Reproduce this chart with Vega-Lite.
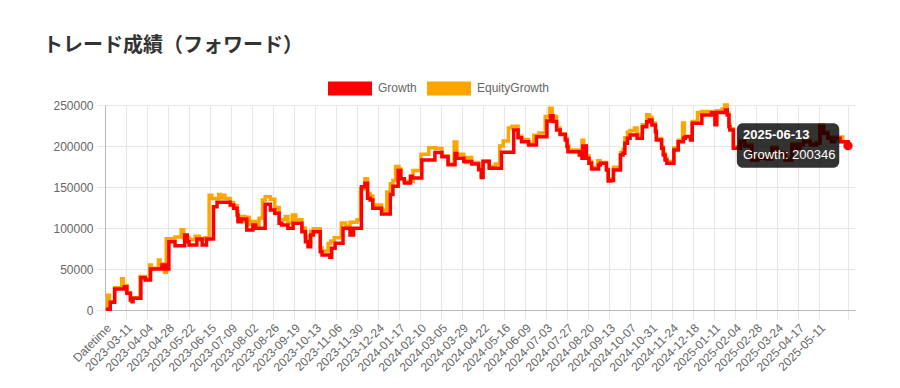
{
"$schema":"https://vega.github.io/schema/vega-lite/v6.json",
"width":750,"height":205,
"autosize":{"type":"none"},
"padding":{"left":105,"top":105,"right":45,"bottom":78},
"background":"white",
"title":{"text":"トレード成績（フォワード）","anchor":"start","frame":"group","dx":-62,"offset":47,"dy":53,"font":"Noto Sans CJK JP","fontSize":20,"fontWeight":"bold","color":"#333333","baseline":"alphabetic"},
"config":{"view":{"stroke":null}},
"datasets":{
"g":[
{"date":"2023-02-16","value":800},{"date":"2023-02-21","value":9400},{"date":"2023-02-26","value":25600},{"date":"2023-03-09","value":28400},{"date":"2023-03-12","value":20400},{"date":"2023-03-16","value":12200},{"date":"2023-03-18","value":10100},{"date":"2023-03-19","value":14300},{"date":"2023-03-28","value":39400},{"date":"2023-04-02","value":36500},{"date":"2023-04-08","value":50000},{"date":"2023-04-21","value":54900},{"date":"2023-04-25","value":50000},{"date":"2023-04-29","value":83300},{"date":"2023-05-06","value":78400},{"date":"2023-05-17","value":91500},{"date":"2023-05-20","value":83300},{"date":"2023-05-22","value":79300},{"date":"2023-05-31","value":86600},{"date":"2023-06-06","value":79300},{"date":"2023-06-11","value":86600},{"date":"2023-06-19","value":126000},{"date":"2023-06-23","value":131300},{"date":"2023-07-08","value":128000},{"date":"2023-07-12","value":124000},{"date":"2023-07-16","value":115800},{"date":"2023-07-17","value":107700},{"date":"2023-07-21","value":111000},{"date":"2023-07-27","value":97600},{"date":"2023-08-03","value":103700},{"date":"2023-08-06","value":99600},{"date":"2023-08-17","value":129000},{"date":"2023-08-23","value":122000},{"date":"2023-08-28","value":118000},{"date":"2023-09-02","value":105700},{"date":"2023-09-05","value":103700},{"date":"2023-09-12","value":99600},{"date":"2023-09-18","value":105700},{"date":"2023-09-28","value":95500},{"date":"2023-10-02","value":83300},{"date":"2023-10-05","value":77200},{"date":"2023-10-08","value":91500},{"date":"2023-10-11","value":95500},{"date":"2023-10-19","value":71100},{"date":"2023-10-21","value":67000},{"date":"2023-10-30","value":64200},{"date":"2023-11-01","value":75200},{"date":"2023-11-05","value":81300},{"date":"2023-11-14","value":99600},{"date":"2023-11-22","value":91500},{"date":"2023-11-26","value":99600},{"date":"2023-12-05","value":150400},{"date":"2023-12-09","value":154500},{"date":"2023-12-12","value":136200},{"date":"2023-12-15","value":134100},{"date":"2023-12-18","value":124000},{"date":"2023-12-28","value":117000},{"date":"2024-01-07","value":141000},{"date":"2024-01-10","value":151000},{"date":"2024-01-16","value":170000},{"date":"2024-01-19","value":160000},{"date":"2024-01-23","value":155000},{"date":"2024-01-30","value":163000},{"date":"2024-02-01","value":161000},{"date":"2024-02-12","value":183000},{"date":"2024-02-27","value":192000},{"date":"2024-03-06","value":187000},{"date":"2024-03-13","value":177000},{"date":"2024-03-21","value":191000},{"date":"2024-03-23","value":185000},{"date":"2024-03-31","value":181000},{"date":"2024-04-09","value":178000},{"date":"2024-04-17","value":171000},{"date":"2024-04-20","value":161500},{"date":"2024-04-22","value":181000},{"date":"2024-04-29","value":173000},{"date":"2024-05-13","value":192500},{"date":"2024-05-27","value":219500},{"date":"2024-06-01","value":210000},{"date":"2024-06-05","value":205300},{"date":"2024-06-13","value":201200},{"date":"2024-06-22","value":211400},{"date":"2024-07-04","value":230600},{"date":"2024-07-08","value":237000},{"date":"2024-07-11","value":230000},{"date":"2024-07-15","value":219500},{"date":"2024-07-19","value":214000},{"date":"2024-07-25","value":207300},{"date":"2024-07-27","value":199200},{"date":"2024-07-28","value":193100},{"date":"2024-08-10","value":189000},{"date":"2024-08-13","value":185000},{"date":"2024-08-14","value":200000},{"date":"2024-08-18","value":185000},{"date":"2024-08-21","value":179000},{"date":"2024-08-24","value":172000},{"date":"2024-09-01","value":176800},{"date":"2024-09-03","value":179000},{"date":"2024-09-10","value":170700},{"date":"2024-09-12","value":157300},{"date":"2024-09-15","value":158000},{"date":"2024-09-18","value":170700},{"date":"2024-09-26","value":189000},{"date":"2024-09-29","value":191100},{"date":"2024-10-01","value":203300},{"date":"2024-10-04","value":209400},{"date":"2024-10-07","value":213400},{"date":"2024-10-15","value":209400},{"date":"2024-10-21","value":223600},{"date":"2024-10-26","value":229600},{"date":"2024-10-29","value":231700},{"date":"2024-11-01","value":225600},{"date":"2024-11-05","value":217500},{"date":"2024-11-06","value":207300},{"date":"2024-11-12","value":197200},{"date":"2024-11-14","value":189000},{"date":"2024-11-16","value":182900},{"date":"2024-11-18","value":179000},{"date":"2024-11-26","value":195100},{"date":"2024-12-01","value":205300},{"date":"2024-12-07","value":209400},{"date":"2024-12-09","value":211400},{"date":"2024-12-15","value":207300},{"date":"2024-12-17","value":227700},{"date":"2024-12-28","value":237800},{"date":"2025-01-08","value":240500},{"date":"2025-01-12","value":226000},{"date":"2025-01-14","value":241000},{"date":"2025-01-24","value":244000},{"date":"2025-01-26","value":237800},{"date":"2025-01-28","value":223600},{"date":"2025-01-29","value":219500},{"date":"2025-02-02","value":197200},{"date":"2025-02-10","value":205300},{"date":"2025-02-15","value":200000},{"date":"2025-02-23","value":182900},{"date":"2025-03-02","value":185000},{"date":"2025-03-12","value":184000},{"date":"2025-03-18","value":197000},{"date":"2025-03-24","value":191000},{"date":"2025-03-29","value":190000},{"date":"2025-04-02","value":182900},{"date":"2025-04-10","value":201200},{"date":"2025-04-15","value":197200},{"date":"2025-04-19","value":201200},{"date":"2025-04-23","value":205300},{"date":"2025-05-01","value":201200},{"date":"2025-05-08","value":203300},{"date":"2025-05-12","value":223600},{"date":"2025-05-16","value":215500},{"date":"2025-05-21","value":209400},{"date":"2025-05-25","value":205300},{"date":"2025-05-29","value":209400},{"date":"2025-06-04","value":205300},{"date":"2025-06-13","value":200346}
],
"e":[
{"date":"2023-02-16","value":800},{"date":"2023-02-18","value":18000},{"date":"2023-02-20","value":10000},{"date":"2023-02-26","value":27000},{"date":"2023-03-06","value":38000},{"date":"2023-03-08","value":30000},{"date":"2023-03-12","value":21000},{"date":"2023-03-16","value":12500},{"date":"2023-03-18","value":11000},{"date":"2023-03-19","value":15000},{"date":"2023-03-27","value":41000},{"date":"2023-04-02","value":38000},{"date":"2023-04-07","value":55000},{"date":"2023-04-09","value":51000},{"date":"2023-04-17","value":61000},{"date":"2023-04-19","value":52000},{"date":"2023-04-22","value":56000},{"date":"2023-04-24","value":46000},{"date":"2023-04-26","value":87000},{"date":"2023-05-06","value":89000},{"date":"2023-05-13","value":98000},{"date":"2023-05-16","value":88000},{"date":"2023-05-22","value":86000},{"date":"2023-05-29","value":90000},{"date":"2023-06-03","value":86000},{"date":"2023-06-09","value":88000},{"date":"2023-06-14","value":140000},{"date":"2023-06-17","value":136000},{"date":"2023-06-25","value":141000},{"date":"2023-06-27","value":137000},{"date":"2023-06-30","value":140000},{"date":"2023-07-02","value":136000},{"date":"2023-07-08","value":131000},{"date":"2023-07-12","value":127000},{"date":"2023-07-16","value":120000},{"date":"2023-07-17","value":110000},{"date":"2023-07-21","value":114000},{"date":"2023-07-25","value":108000},{"date":"2023-07-28","value":113000},{"date":"2023-07-30","value":104000},{"date":"2023-08-03","value":108000},{"date":"2023-08-06","value":104000},{"date":"2023-08-10","value":112000},{"date":"2023-08-14","value":134000},{"date":"2023-08-17","value":138000},{"date":"2023-08-23","value":135000},{"date":"2023-08-28","value":125000},{"date":"2023-09-02","value":110000},{"date":"2023-09-09","value":114000},{"date":"2023-09-12","value":106000},{"date":"2023-09-17","value":116000},{"date":"2023-09-21","value":110000},{"date":"2023-09-28","value":100000},{"date":"2023-10-02","value":90000},{"date":"2023-10-05","value":81000},{"date":"2023-10-08","value":96000},{"date":"2023-10-11","value":99000},{"date":"2023-10-19","value":76000},{"date":"2023-10-21","value":72000},{"date":"2023-10-28","value":81000},{"date":"2023-10-31","value":84000},{"date":"2023-11-04","value":88000},{"date":"2023-11-12","value":106000},{"date":"2023-11-17","value":102000},{"date":"2023-11-22","value":107000},{"date":"2023-11-30","value":110000},{"date":"2023-12-04","value":148000},{"date":"2023-12-09","value":160000},{"date":"2023-12-12","value":142000},{"date":"2023-12-15","value":139000},{"date":"2023-12-18","value":128000},{"date":"2023-12-28","value":122000},{"date":"2024-01-03","value":144000},{"date":"2024-01-07","value":154000},{"date":"2024-01-10","value":158000},{"date":"2024-01-13","value":175000},{"date":"2024-01-17","value":172000},{"date":"2024-01-19","value":160000},{"date":"2024-01-23","value":157000},{"date":"2024-02-02","value":170000},{"date":"2024-02-11","value":190000},{"date":"2024-02-20","value":198000},{"date":"2024-02-28","value":197000},{"date":"2024-03-06","value":188000},{"date":"2024-03-13","value":178000},{"date":"2024-03-20","value":205000},{"date":"2024-03-23","value":190000},{"date":"2024-03-31","value":186000},{"date":"2024-04-02","value":180000},{"date":"2024-04-06","value":186000},{"date":"2024-04-09","value":180000},{"date":"2024-04-17","value":172000},{"date":"2024-04-20","value":163000},{"date":"2024-04-22","value":182000},{"date":"2024-04-29","value":175000},{"date":"2024-05-06","value":178000},{"date":"2024-05-11","value":200000},{"date":"2024-05-15","value":206000},{"date":"2024-05-21","value":222000},{"date":"2024-05-25","value":224000},{"date":"2024-06-01","value":212000},{"date":"2024-06-05","value":208000},{"date":"2024-06-13","value":203000},{"date":"2024-06-19","value":213000},{"date":"2024-06-25","value":216000},{"date":"2024-07-02","value":236000},{"date":"2024-07-07","value":246000},{"date":"2024-07-10","value":236000},{"date":"2024-07-15","value":222000},{"date":"2024-07-19","value":215000},{"date":"2024-07-25","value":209000},{"date":"2024-07-27","value":200000},{"date":"2024-07-29","value":195000},{"date":"2024-08-12","value":192000},{"date":"2024-08-13","value":207000},{"date":"2024-08-15","value":200000},{"date":"2024-08-18","value":188000},{"date":"2024-08-21","value":181000},{"date":"2024-08-24","value":174000},{"date":"2024-08-31","value":182000},{"date":"2024-09-03","value":180000},{"date":"2024-09-10","value":172000},{"date":"2024-09-12","value":160000},{"date":"2024-09-15","value":160000},{"date":"2024-09-18","value":174000},{"date":"2024-09-26","value":192000},{"date":"2024-09-29","value":196000},{"date":"2024-10-01","value":210000},{"date":"2024-10-04","value":217000},{"date":"2024-10-07","value":219000},{"date":"2024-10-12","value":222000},{"date":"2024-10-15","value":214000},{"date":"2024-10-21","value":226000},{"date":"2024-10-26","value":238000},{"date":"2024-10-29","value":235000},{"date":"2024-11-01","value":228000},{"date":"2024-11-05","value":219000},{"date":"2024-11-06","value":209000},{"date":"2024-11-12","value":199000},{"date":"2024-11-14","value":191000},{"date":"2024-11-16","value":185000},{"date":"2024-11-18","value":181000},{"date":"2024-11-26","value":198000},{"date":"2024-12-01","value":207000},{"date":"2024-12-06","value":228000},{"date":"2024-12-08","value":212000},{"date":"2024-12-15","value":210000},{"date":"2024-12-17","value":230000},{"date":"2024-12-23","value":241000},{"date":"2024-12-28","value":242000},{"date":"2025-01-08","value":242000},{"date":"2025-01-12","value":228000},{"date":"2025-01-14","value":243000},{"date":"2025-01-20","value":245000},{"date":"2025-01-23","value":250000},{"date":"2025-01-26","value":240000},{"date":"2025-01-28","value":226000},{"date":"2025-01-29","value":221000},{"date":"2025-02-02","value":199000},{"date":"2025-02-10","value":207000},{"date":"2025-02-15","value":202000},{"date":"2025-02-23","value":185000},{"date":"2025-03-02","value":187000},{"date":"2025-03-12","value":186000},{"date":"2025-03-18","value":199000},{"date":"2025-03-24","value":193000},{"date":"2025-03-29","value":192000},{"date":"2025-04-02","value":185000},{"date":"2025-04-10","value":203000},{"date":"2025-04-15","value":199000},{"date":"2025-04-19","value":203000},{"date":"2025-04-23","value":207000},{"date":"2025-05-01","value":203000},{"date":"2025-05-08","value":205000},{"date":"2025-05-12","value":226000},{"date":"2025-05-16","value":217000},{"date":"2025-05-21","value":211000},{"date":"2025-05-25","value":207000},{"date":"2025-05-29","value":211000},{"date":"2025-06-04","value":211000},{"date":"2025-06-07","value":205000},{"date":"2025-06-13","value":201000}
]
},
"layer":[
{"data":{"name":"e"},
 "mark":{"type":"line","interpolate":"step-after","strokeWidth":3.5},
 "encoding":{
  "x":{"field":"date","type":"temporal","scale":{"type":"utc","domain":[{"year":2023,"month":2,"date":15,"utc":true},{"year":2025,"month":6,"date":21,"utc":true}]},
   "axis":{"title":null,"tickCount":200,"values":[
    {"year":2023,"month":2,"date":15,"utc":true},{"year":2023,"month":3,"date":11,"utc":true},{"year":2023,"month":4,"date":4,"utc":true},{"year":2023,"month":4,"date":28,"utc":true},{"year":2023,"month":5,"date":22,"utc":true},{"year":2023,"month":6,"date":15,"utc":true},{"year":2023,"month":7,"date":9,"utc":true},{"year":2023,"month":8,"date":2,"utc":true},{"year":2023,"month":8,"date":26,"utc":true},{"year":2023,"month":9,"date":19,"utc":true},{"year":2023,"month":10,"date":13,"utc":true},{"year":2023,"month":11,"date":6,"utc":true},{"year":2023,"month":11,"date":30,"utc":true},{"year":2023,"month":12,"date":24,"utc":true},
    {"year":2024,"month":1,"date":17,"utc":true},{"year":2024,"month":2,"date":10,"utc":true},{"year":2024,"month":3,"date":5,"utc":true},{"year":2024,"month":3,"date":29,"utc":true},{"year":2024,"month":4,"date":22,"utc":true},{"year":2024,"month":5,"date":16,"utc":true},{"year":2024,"month":6,"date":9,"utc":true},{"year":2024,"month":7,"date":3,"utc":true},{"year":2024,"month":7,"date":27,"utc":true},{"year":2024,"month":8,"date":20,"utc":true},{"year":2024,"month":9,"date":13,"utc":true},{"year":2024,"month":10,"date":7,"utc":true},{"year":2024,"month":10,"date":31,"utc":true},{"year":2024,"month":11,"date":24,"utc":true},{"year":2024,"month":12,"date":18,"utc":true},
    {"year":2025,"month":1,"date":11,"utc":true},{"year":2025,"month":2,"date":4,"utc":true},{"year":2025,"month":2,"date":28,"utc":true},{"year":2025,"month":3,"date":24,"utc":true},{"year":2025,"month":4,"date":17,"utc":true},{"year":2025,"month":5,"date":11,"utc":true},{"year":2025,"month":6,"date":13,"utc":true}],
    "labelExpr":"utcFormat(datum.value,'%Y-%m-%d') == '2023-02-15' ? 'Datetime' : (utcFormat(datum.value,'%Y-%m-%d') == '2025-06-13' ? '' : utcFormat(datum.value,'%Y-%m-%d'))",
    "labelAngle":-45,"labelFont":"Liberation Sans","labelFontSize":12,"labelColor":"#666666","labelOverlap":false,"labelBound":false,"labelFlush":false,
    "grid":true,"gridColor":"#e6e6e6","tickColor":"#e6e6e6","tickSize":9,"labelPadding":3,"domainColor":"#b8b8b8"}},
  "y":{"field":"value","type":"quantitative","scale":{"domain":[0,250000],"nice":false},
   "axis":{"title":null,"values":[0,50000,100000,150000,200000,250000],"format":"d","labelFont":"Liberation Sans","labelFontSize":12,"labelColor":"#666666","grid":true,"gridColor":"#e6e6e6","tickColor":"#e6e6e6","tickSize":8,"labelPadding":4,"domainColor":"#b8b8b8"}},
  "color":{"datum":"EquityGrowth","type":"nominal","scale":{"domain":["Growth","EquityGrowth"],"range":["#ff0000","#ffa500"]},
   "legend":{"orient":"none","legendX":223,"legendY":-39,"direction":"horizontal","title":null,"padding":0,"symbolType":"M-1,-0.32H1V0.32H-1Z","symbolSize":1936,"symbolStrokeWidth":0,"labelFont":"Liberation Sans","labelFontSize":12,"labelColor":"#666666","labelOffset":6,"columnPadding":10,
    "encode":{"symbols":{"update":{"fill":{"scale":"color","field":"value"},"fillOpacity":{"value":1}}}}}}
 }},
{"data":{"name":"g"},
 "mark":{"type":"line","interpolate":"step-after","strokeWidth":3.5},
 "encoding":{
  "x":{"field":"date","type":"temporal"},
  "y":{"field":"value","type":"quantitative"},
  "color":{"datum":"Growth","type":"nominal"}
 }},
{"data":{"values":[{"x0":"2025-02-06","x1":"2025-06-03","top":227700,"bottom":173500}]},
 "mark":{"type":"rect","color":"#000000","opacity":0.8,"cornerRadius":6},
 "encoding":{"x":{"field":"x0","type":"temporal"},"x2":{"field":"x1"},"y":{"field":"top","type":"quantitative"},"y2":{"field":"bottom"}}},
{"data":{"values":[{"x":"2025-02-13","y":213400,"t":"2025-06-13"}]},
 "mark":{"type":"text","align":"left","baseline":"middle","font":"Liberation Sans","fontSize":13,"fontWeight":"bold","color":"#ffffff"},
 "encoding":{"x":{"field":"x","type":"temporal"},"y":{"field":"y","type":"quantitative"},"text":{"field":"t"}}},
{"data":{"values":[{"x":"2025-02-13","y":189000,"t":"Growth: 200346"}]},
 "mark":{"type":"text","align":"left","baseline":"middle","font":"Liberation Sans","fontSize":13,"color":"#ffffff"},
 "encoding":{"x":{"field":"x","type":"temporal"},"y":{"field":"y","type":"quantitative"},"text":{"field":"t"}}},
{"data":{"values":[{"date":"2025-06-13","value":200346}]},
 "mark":{"type":"circle","color":"#ff0000","opacity":1,"size":85},
 "encoding":{"x":{"field":"date","type":"temporal"},"y":{"field":"value","type":"quantitative"}}}
]
}
